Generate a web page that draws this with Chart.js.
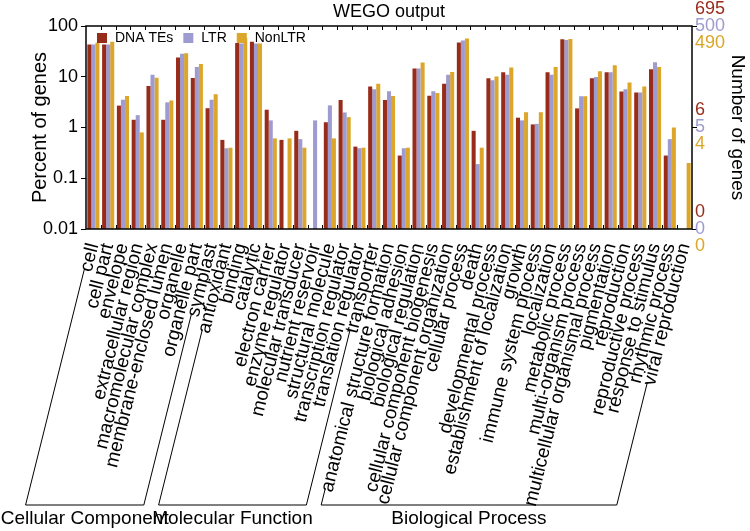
<!DOCTYPE html>
<html>
<head>
<meta charset="utf-8">
<script src="https://cdn.jsdelivr.net/npm/chart.js@4.4.0/dist/chart.umd.min.js"></script>
<style>
  html, body { margin: 0; padding: 0; background: #fff; }
  #wrap { width: 750px; height: 531px; }
</style>
</head>
<body>
<div id="wrap"><canvas id="wego"></canvas></div>
<script>
// ===== GO categories (x axis) =====
const categories = [
  'cell', 'cell part', 'envelope', 'extracellular region', 'macromolecular complex',
  'membrane-enclosed lumen', 'organelle', 'organelle part', 'symplast',
  'antioxidant', 'binding', 'catalytic', 'electron carrier', 'enzyme regulator',
  'molecular transducer', 'nutrient reservoir', 'structural molecule',
  'transcription regulator', 'translation regulator', 'transporter',
  'anatomical structure formation', 'biological adhesion', 'biological regulation',
  'cellular component biogenesis', 'cellular component organization', 'cellular process',
  'death', 'developmental process', 'establishment of localization', 'growth',
  'immune system process', 'localization', 'metabolic process', 'multi-organism process',
  'multicellular organismal process', 'pigmentation', 'reproduction',
  'reproductive process', 'response to stimulus', 'rhythmic process', 'viral reproduction'
];

// ===== percent of genes per series (null = no genes) =====
const dnaTEs = [
  43, 43, 2.7, 1.42, 6.6, 1.42, 24, 9.5, 2.4,
  0.57, 46, 49, 2.24, 0.57, 0.86, null, 1.27, 3.5, 0.42, 6.4,
  3.5, 0.28, 14.5, 4.24, 7.3, 47.5, 0.86, 9.3, 12.3, 1.56,
  1.15, 12.3, 55, 2.38, 9.3, 12.3, 5.1, 4.87, 14.1, 0.28, null
];
const ltr = [
  43, 43, 3.54, 1.75, 10.9, 3.13, 28.3, 15.6, 3.54,
  0.39, 45, 45.4, 1.38, null, 0.59, 1.38, 2.73, 1.98, 0.39, 5.65,
  5.2, 0.39, 14.5, 5.2, 11.0, 52, 0.19, 8.5, 11.0, 1.38,
  1.18, 11.0, 52.8, 4.11, 9.9, 12.3, 5.65, 4.87, 19.4, 0.59, null
];
const nonLTR = [
  46.7, 48.9, 4.17, 0.8, 9.6, 3.42, 29.2, 17.9, 4.5,
  0.4, 58.7, 45.4, 0.61, 0.61, 0.4, null, 0.61, 1.6, 0.4, 7.3,
  4.17, 0.4, 19.1, 4.78, 12.4, 57, 0.4, 10.1, 15.2, 2.0,
  2.0, 15.6, 55.3, 4.11, 12.8, 16.9, 7.7, 6.4, 15.6, 1.0, 0.2
];

// ===== groups under the axis =====
const groupNames = ['Cellular Component', 'Molecular Function', 'Biological Process'];
const groupFirst = [0, 9, 20];
const groupLast = [8, 19, 40];

// ===== axis ticks =====
const percentTicks = [0.01, 0.1, 1, 10, 100];
const countTickAt = [100, 1, 0.01];
const countDNA = ['695', '6', '0'];
const countLTR = ['500', '5', '0'];
const countNonLTR = ['490', '4', '0'];

const RED = '#982c1a';
const LAV = '#9d9bcf';
const GOLD = '#dba62a';
const FONT = "'Liberation Sans', Arial, sans-serif";
const ROT = 76;
const ANGLE = ROT * Math.PI / 180;
const LABEL_SIZE = 19;

// ===== plugin: legend inside the plot =====
const wegoLegend = {
  id: 'wegoLegend',
  afterDatasetsDraw(chart) {
    const ctx = chart.ctx;
    const a = chart.chartArea;
    ctx.save();
    ctx.font = '14px ' + FONT;
    ctx.textAlign = 'left';
    ctx.textBaseline = 'middle';
    let lx = a.left + 11;
    const ly = a.top + 12;
    chart.data.datasets.forEach(ds => {
      ctx.fillStyle = ds.backgroundColor;
      ctx.fillRect(lx, ly - 5, 10, 10);
      ctx.fillStyle = '#000';
      ctx.fillText(ds.label, lx + 18, ly);
      lx += 18 + ctx.measureText(ds.label).width + 10;
    });
    ctx.restore();
  }
};

// ===== plugin: frame, inner ticks, right labels, title, group brackets =====
const wegoDecor = {
  id: 'wegoDecor',
  afterDraw(chart) {
    const ctx = chart.ctx;
    const a = chart.chartArea;
    const x = chart.scales.x;
    const y2 = chart.scales.y2;
    ctx.save();

    // frame
    ctx.strokeStyle = '#000';
    ctx.lineWidth = 1.5;
    ctx.strokeRect(a.left, a.top, a.right - a.left, a.bottom - a.top);

    // inner ticks at category boundaries
    ctx.lineWidth = 1;
    const step = (a.right - a.left) / categories.length;
    ctx.beginPath();
    for (let k = 1; k < categories.length; k++) {
      const px = Math.round(a.left + step * k) + 0.5;
      ctx.moveTo(px, a.top); ctx.lineTo(px, a.top + 4);
      ctx.moveTo(px, a.bottom); ctx.lineTo(px, a.bottom - 4);
    }
    ctx.stroke();

    // title
    ctx.fillStyle = '#000';
    ctx.font = '18px ' + FONT;
    ctx.textAlign = 'center';
    ctx.textBaseline = 'middle';
    ctx.fillText('WEGO output', (a.left + a.right) / 2, 12);

    // right axis: gene counts, three colours per tick
    ctx.font = '18px ' + FONT;
    ctx.textAlign = 'left';
    countTickAt.forEach((v, i) => {
      const py = y2.getPixelForValue(v);
      ctx.fillStyle = RED; ctx.fillText(countDNA[i], a.right + 3, py - 17);
      ctx.fillStyle = LAV; ctx.fillText(countLTR[i], a.right + 3, py);
      ctx.fillStyle = GOLD; ctx.fillText(countNonLTR[i], a.right + 3, py + 17);
    });

    // group brackets, continuing the first and last label of each group
    const baseY = 505;
    const labelY = a.bottom + 4;
    const edge = (i) => {
      const w = ctx.measureText(categories[i]).width + 8;
      const sx = x.getPixelForTick(i) - Math.cos(ANGLE) * w;
      const sy = labelY + Math.sin(ANGLE) * w;
      const ex = sx - (baseY - sy) / Math.tan(ANGLE);
      return { sx, sy, ex };
    };
    ctx.strokeStyle = '#000';
    ctx.lineWidth = 1;
    groupNames.forEach((name, g) => {
      ctx.font = LABEL_SIZE + 'px ' + FONT;
      const l = edge(groupFirst[g]);
      const r = edge(groupLast[g]);
      ctx.beginPath();
      ctx.moveTo(l.sx, l.sy);
      ctx.lineTo(l.ex, baseY);
      ctx.lineTo(r.ex, baseY);
      ctx.lineTo(r.sx, r.sy);
      ctx.stroke();
      ctx.font = '19px ' + FONT;
      ctx.fillStyle = '#000';
      ctx.textAlign = 'center';
      ctx.textBaseline = 'middle';
      ctx.fillText(name, (l.ex + r.ex) / 2, 519);
    });
    ctx.restore();
  }
};

new Chart(document.getElementById('wego'), {
  type: 'bar',
  data: {
    labels: categories,
    datasets: [
      { label: 'DNA TEs', data: dnaTEs, backgroundColor: RED, yAxisID: 'y' },
      { label: 'LTR', data: ltr, backgroundColor: LAV, yAxisID: 'y' },
      { label: 'NonLTR', data: nonLTR, backgroundColor: GOLD, yAxisID: 'y' }
    ]
  },
  options: {
    responsive: true,
    maintainAspectRatio: false,
    animation: false,
    devicePixelRatio: 1,
    layout: { padding: { top: 26, left: 0, right: 0, bottom: 0 } },
    datasets: { bar: { categoryPercentage: 0.82, barPercentage: 1.0 } },
    plugins: {
      legend: { display: false },
      tooltip: { enabled: false }
    },
    scales: {
      x: {
        grid: { display: false },
        border: { display: false },
        ticks: {
          autoSkip: false, minRotation: ROT, maxRotation: ROT, padding: 4,
          color: '#000', font: { size: LABEL_SIZE, family: FONT }
        },
        afterFit: (s) => { s.height = 302; }
      },
      y: {
        type: 'logarithmic',
        position: 'left',
        min: 0.01, max: 100,
        afterBuildTicks: (s) => { s.ticks = percentTicks.map(v => ({ value: v })); },
        ticks: {
          color: '#000', font: { size: 18, family: FONT }, padding: 3,
          callback: (v) => String(v)
        },
        grid: { drawOnChartArea: false, tickLength: 5, color: '#000' },
        border: { display: false },
        title: {
          display: true, text: 'Percent of genes', color: '#000',
          font: { size: 20, family: FONT }, padding: { top: 28, bottom: 0 }
        },
        afterFit: (s) => { s.width = 86; }
      },
      y2: {
        type: 'logarithmic',
        position: 'right',
        min: 0.01, max: 100,
        afterBuildTicks: (s) => { s.ticks = countTickAt.map(v => ({ value: v })); },
        ticks: { callback: () => '' },
        grid: { drawOnChartArea: false, tickLength: 5, color: '#000' },
        border: { display: false },
        title: {
          display: true, text: 'Number of genes', color: '#000',
          font: { size: 19, family: FONT }, padding: { top: 1, bottom: 0 }
        },
        afterFit: (s) => { s.width = 58; }
      }
    }
  },
  plugins: [wegoLegend, wegoDecor]
});
</script>
</body>
</html>
